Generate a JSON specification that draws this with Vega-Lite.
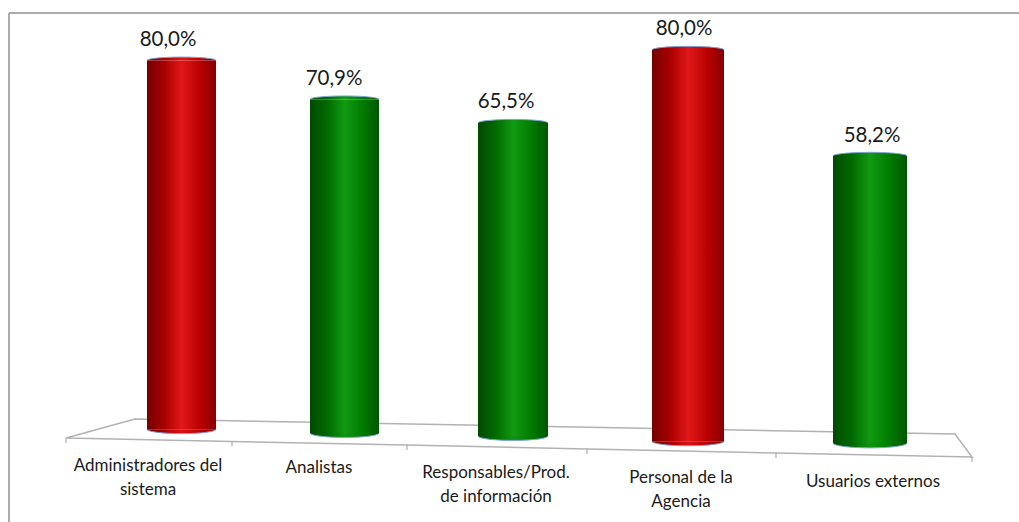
{
"$schema":"https://vega.github.io/schema/vega-lite/v6.json",
"width":1010,"height":509,
"padding":{"left":9,"top":13,"right":0,"bottom":0},
"autosize":{"type":"none"},
"background":"white",
"config":{"view":{"stroke":null}},
"data":{"values":[
{"n":1,"categoria":"Administradores del\nsistema","valor":"80,0%","tipo":"rojo","tope":80.1,"base":3.3},
{"n":2,"categoria":"Analistas","valor":"70,9%","tipo":"verde","tope":72.0,"base":2.5},
{"n":3,"categoria":"Responsables/Prod.\nde información","valor":"65,5%","tipo":"verde","tope":67.1,"base":1.9},
{"n":4,"categoria":"Personal de la\nAgencia","valor":"80,0%","tipo":"rojo","tope":82.3,"base":0.8},
{"n":5,"categoria":"Usuarios externos","valor":"58,2%","tipo":"verde","tope":60.2,"base":0.4}
]},
"datasets":{
"suelo":[
{"u":0,"y":1.46,"orden":1},
{"u":0.416,"y":5.42,"orden":2},
{"u":4.913,"y":2.29,"orden":3},
{"u":5,"y":-2.5,"orden":4},
{"u":4,"y":-1.67,"orden":5},
{"u":3,"y":-0.83,"orden":6},
{"u":2,"y":0,"orden":7},
{"u":1,"y":0.73,"orden":8},
{"u":0,"y":1.46,"orden":9}
],
"marcas":[
{"u":0,"y":1.46,"y2":0.4},
{"u":1,"y":0.73,"y2":-0.3},
{"u":2,"y":0,"y2":-1.05},
{"u":3,"y":-0.83,"y2":-1.9},
{"u":4,"y":-1.67,"y2":-2.7},
{"u":5,"y":-2.5,"y2":-3.55}
]
},
"resolve":{"scale":{"x":"independent","y":"independent","size":"independent"}},
"layer":[
{"mark":{"type":"rule","color":"#ababab","strokeWidth":2},
 "encoding":{
 "x":{"datum":0,"type":"quantitative","scale":{"domain":[0,1],"range":[0,1010]},"axis":null},
 "x2":{"datum":1},
 "y":{"datum":0,"type":"quantitative","scale":{"domain":[0,1],"range":[0,509]},"axis":null}}},
{"mark":{"type":"rule","color":"#ababab","strokeWidth":2},
 "encoding":{
 "x":{"datum":0,"type":"quantitative","scale":{"domain":[0,1],"range":[0,1010]},"axis":null},
 "y":{"datum":0,"type":"quantitative","scale":{"domain":[0,1],"range":[0,509]},"axis":null},
 "y2":{"datum":1}}},
{"data":{"name":"suelo"},
 "mark":{"type":"line","color":"#b2b2b2","strokeWidth":1.5},
 "encoding":{
 "x":{"field":"u","type":"quantitative","scale":{"domain":[0,1,2,3,4,5],"range":[57,223,398,578,767,963]},"axis":null},
 "y":{"field":"y","type":"quantitative","scale":{"domain":[0,90],"range":[432,0],"zero":false,"nice":false},"axis":null},
 "order":{"field":"orden"}}},
{"data":{"name":"marcas"},
 "mark":{"type":"rule","color":"#a0a0a0","strokeWidth":1},
 "encoding":{
 "x":{"field":"u","type":"quantitative","scale":{"domain":[0,1,2,3,4,5],"range":[57,223,398,578,767,963]},"axis":null},
 "y":{"field":"y","type":"quantitative","scale":{"domain":[0,90],"range":[432,0],"zero":false,"nice":false},"axis":null},
 "y2":{"field":"y2"}}},
{"transform":[{"filter":"datum.tipo==='rojo'"}],
 "mark":{"type":"point","filled":true,"opacity":1,"shape":"M-1,0A1,0.13 0 0 0 1,0","stroke":"#7ea6d8","strokeWidth":1,"fill":{"gradient":"linear","x1":0,"x2":1,"y1":0,"y2":0,"stops":[{"offset":0,"color":"#740000"},{"offset":0.25,"color":"#a80000"},{"offset":0.5,"color":"#d81212"},{"offset":0.78,"color":"#b80000"},{"offset":1,"color":"#860000"}]}},
 "encoding":{
 "x":{"field":"n","type":"quantitative","scale":{"domain":[1,2,3,4,5],"range":[172.5,335.5,504,679,861]},"axis":null},
 "y":{"field":"base","type":"quantitative","scale":{"domain":[0,90],"range":[432,0],"zero":false,"nice":false},"axis":null},
 "size":{"field":"n","type":"quantitative","scale":{"domain":[1,2,3,4,5],"range":[4761,4761,4900,5184,5476],"zero":false},"legend":null}}},
{"transform":[{"filter":"datum.tipo==='verde'"}],
 "mark":{"type":"point","filled":true,"opacity":1,"shape":"M-1,0A1,0.13 0 0 0 1,0","stroke":"#7ea6d8","strokeWidth":1,"fill":{"gradient":"linear","x1":0,"x2":1,"y1":0,"y2":0,"stops":[{"offset":0,"color":"#004a00"},{"offset":0.25,"color":"#006a00"},{"offset":0.5,"color":"#109510"},{"offset":0.78,"color":"#007a00"},{"offset":1,"color":"#005600"}]}},
 "encoding":{
 "x":{"field":"n","type":"quantitative","scale":{"domain":[1,2,3,4,5],"range":[172.5,335.5,504,679,861]},"axis":null},
 "y":{"field":"base","type":"quantitative","scale":{"domain":[0,90],"range":[432,0],"zero":false,"nice":false},"axis":null},
 "size":{"field":"n","type":"quantitative","scale":{"domain":[1,2,3,4,5],"range":[4761,4761,4900,5184,5476],"zero":false},"legend":null}}},
{"transform":[{"filter":"datum.tipo==='rojo'"}],
 "mark":{"type":"bar","opacity":1,"color":{"gradient":"linear","x1":0,"x2":1,"y1":0,"y2":0,"stops":[{"offset":0,"color":"#740000"},{"offset":0.25,"color":"#a80000"},{"offset":0.5,"color":"#e01818"},{"offset":0.78,"color":"#b80000"},{"offset":1,"color":"#860000"}]}},
 "encoding":{
 "x":{"field":"n","type":"quantitative","scale":{"domain":[1,2,3,4,5],"range":[172.5,335.5,504,679,861],"padding":0},"axis":null},
 "y":{"field":"tope","type":"quantitative","scale":{"domain":[0,90],"range":[432,0],"zero":false,"nice":false},"axis":null},
 "y2":{"field":"base"},
 "size":{"field":"n","type":"quantitative","scale":{"domain":[1,2,3,4,5],"range":[69,69,70,72,74],"zero":false},"legend":null}}},
{"transform":[{"filter":"datum.tipo==='verde'"}],
 "mark":{"type":"bar","opacity":1,"color":{"gradient":"linear","x1":0,"x2":1,"y1":0,"y2":0,"stops":[{"offset":0,"color":"#004a00"},{"offset":0.25,"color":"#006a00"},{"offset":0.5,"color":"#129a12"},{"offset":0.78,"color":"#007a00"},{"offset":1,"color":"#005600"}]}},
 "encoding":{
 "x":{"field":"n","type":"quantitative","scale":{"domain":[1,2,3,4,5],"range":[172.5,335.5,504,679,861],"padding":0},"axis":null},
 "y":{"field":"tope","type":"quantitative","scale":{"domain":[0,90],"range":[432,0],"zero":false,"nice":false},"axis":null},
 "y2":{"field":"base"},
 "size":{"field":"n","type":"quantitative","scale":{"domain":[1,2,3,4,5],"range":[69,69,70,72,74],"zero":false},"legend":null}}},
{"transform":[{"filter":"datum.tipo==='rojo'"}],
 "mark":{"type":"point","filled":true,"opacity":1,"shape":"M-1,0A1,0.1 0 0 1 1,0","stroke":"#7ea6d8","strokeWidth":1,"fill":{"gradient":"linear","x1":0,"x2":1,"y1":0,"y2":0,"stops":[{"offset":0,"color":"#740000"},{"offset":0.25,"color":"#a80000"},{"offset":0.5,"color":"#e01818"},{"offset":0.78,"color":"#b80000"},{"offset":1,"color":"#860000"}]}},
 "encoding":{
 "x":{"field":"n","type":"quantitative","scale":{"domain":[1,2,3,4,5],"range":[172.5,335.5,504,679,861]},"axis":null},
 "y":{"field":"tope","type":"quantitative","scale":{"domain":[0,90],"range":[432,0],"zero":false,"nice":false},"axis":null},
 "size":{"field":"n","type":"quantitative","scale":{"domain":[1,2,3,4,5],"range":[4761,4761,4900,5184,5476],"zero":false},"legend":null}}},
{"transform":[{"filter":"datum.tipo==='verde'"}],
 "mark":{"type":"point","filled":true,"opacity":1,"shape":"M-1,0A1,0.1 0 0 1 1,0","stroke":"#7ea6d8","strokeWidth":1,"fill":{"gradient":"linear","x1":0,"x2":1,"y1":0,"y2":0,"stops":[{"offset":0,"color":"#004a00"},{"offset":0.25,"color":"#006a00"},{"offset":0.5,"color":"#129a12"},{"offset":0.78,"color":"#007a00"},{"offset":1,"color":"#005600"}]}},
 "encoding":{
 "x":{"field":"n","type":"quantitative","scale":{"domain":[1,2,3,4,5],"range":[172.5,335.5,504,679,861]},"axis":null},
 "y":{"field":"tope","type":"quantitative","scale":{"domain":[0,90],"range":[432,0],"zero":false,"nice":false},"axis":null},
 "size":{"field":"n","type":"quantitative","scale":{"domain":[1,2,3,4,5],"range":[4761,4761,4900,5184,5476],"zero":false},"legend":null}}},
{"mark":{"type":"text","font":"Lato","fontSize":20.5,"color":"#1a1a1a","dy":-20.5,"baseline":"middle","align":"center"},
 "encoding":{
 "x":{"field":"n","type":"quantitative","scale":{"domain":[1,2,3,4,5],"range":[159,325,497,675,863]},"axis":null},
 "y":{"field":"tope","type":"quantitative","scale":{"domain":[0,90],"range":[432,0],"zero":false,"nice":false},"axis":null},
 "text":{"field":"valor"}}},
{"mark":{"type":"text","font":"Lato","fontSize":17,"color":"#1a1a1a","lineBreak":"\n","lineHeight":23.5,"baseline":"middle","align":"center"},
 "encoding":{
 "x":{"field":"n","type":"quantitative","scale":{"domain":[1,2,3,4,5],"range":[139,310,487,672,864]},"axis":null},
 "y":{"field":"n","type":"quantitative","scale":{"domain":[1,2,3,4,5],"range":[453,455,460,465,469],"zero":false,"nice":false},"axis":null},
 "text":{"field":"categoria"}}}
]
}
